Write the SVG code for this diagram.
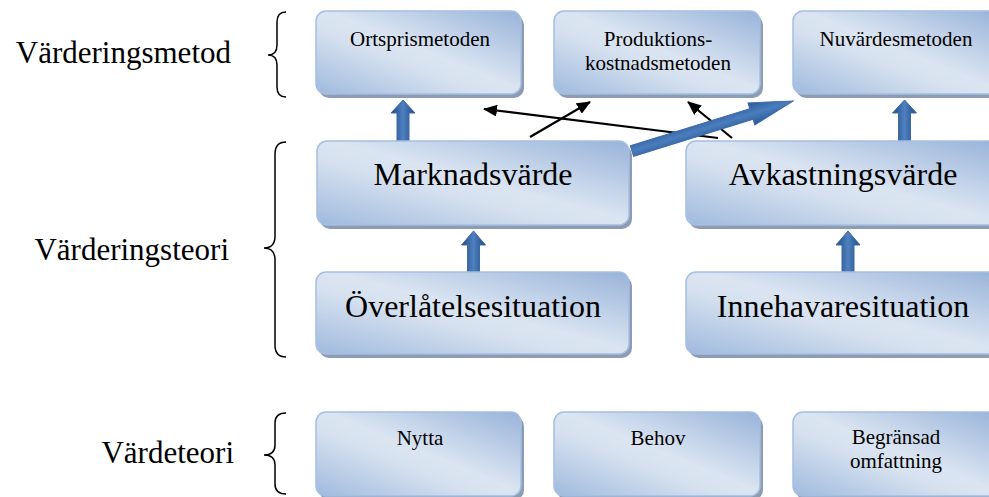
<svg xmlns="http://www.w3.org/2000/svg" width="989" height="497" viewBox="0 0 989 497">
<defs>
<linearGradient id="boxg" x1="1" y1="0" x2="0" y2="1">
<stop offset="0" stop-color="#98b3d9"/>
<stop offset="0.48" stop-color="#dbe5f2"/>
<stop offset="0.6" stop-color="#d6e1ef"/>
<stop offset="1" stop-color="#9fbade"/>
</linearGradient>
<linearGradient id="arrv" x1="0" y1="0" x2="1" y2="0">
<stop offset="0" stop-color="#1f4b86"/>
<stop offset="0.5" stop-color="#4f80bf"/>
<stop offset="1" stop-color="#1f4b86"/>
</linearGradient>
<linearGradient id="arrd" x1="0" y1="0" x2="0" y2="1">
<stop offset="0" stop-color="#2a5a98"/>
<stop offset="0.5" stop-color="#4b7dbd"/>
<stop offset="1" stop-color="#2a5a98"/>
</linearGradient>
<marker id="ah" markerWidth="14" markerHeight="12" refX="13" refY="6" orient="auto" markerUnits="userSpaceOnUse">
<path d="M0,0 L14,6 L0,12 Z" fill="#000"/>
</marker>
</defs>
<style>
.shadow{fill:#8d9bb3;}
.box{fill:url(#boxg);stroke:#a5bfe2;stroke-width:1.5;}
.t{font-family:"Liberation Serif","Times New Roman",serif;fill:#000;text-anchor:middle;}
.s{font-size:21px;}
.l{font-size:32px;}
.lab{font-family:"Liberation Serif","Times New Roman",serif;font-size:31px;fill:#000;text-anchor:end;}
.brace{fill:none;stroke:#000;stroke-width:1.5;}
.thin{fill:none;stroke:#000;stroke-width:2.2;marker-end:url(#ah);}
.ba{fill:url(#arrv);stroke:#3d6aa6;stroke-width:1;}
</style>
<rect width="989" height="497" fill="#fff"/>

<g id="labels">
<text class="lab" x="231" y="63">Värderingsmetod</text>
<text class="lab" x="229" y="260">Värderingsteori</text>
<text class="lab" x="234" y="463">Värdeteori</text>
<path class="brace" d="M286,12 Q277,12 277,22 L277,45 Q277,55 268,55 Q277,55 277,65 L277,87 Q277,97 286,97"/>
<path class="brace" d="M286,142 Q275,142 275,154 L275,236 Q275,248 264,248 Q275,248 275,260 L275,345 Q275,357 286,357"/>
<path class="brace" d="M286,413 Q275,413 275,423 L275,445 Q275,455 264,455 Q275,455 275,465 L275,484 Q275,494 286,494"/>
</g>

<g id="connectors">
<line class="thin" x1="718" y1="138" x2="484" y2="109"/>
<line class="thin" x1="530" y1="137" x2="590" y2="102"/>
<line class="thin" x1="732" y1="138" x2="688" y2="102"/>
<path class="ba" d="M397,141 L397,113 L391,113 L403,100 L415,113 L409,113 L409,141 Z"/>
<path class="ba" d="M898.5,141 L898.5,113 L892.5,113 L904.5,100 L916.5,113 L910.5,113 L910.5,141 Z"/>
<path class="ba" d="M467.5,272 L467.5,245 L461.5,245 L473.5,231 L485.5,245 L479.5,245 L479.5,272 Z"/>
<path class="ba" d="M842,272 L842,245 L836,245 L848,231 L860,245 L854,245 L854,272 Z"/>
<path transform="translate(632,151) rotate(-17.25)" fill="url(#arrd)" stroke="#3d6aa6" stroke-width="1" d="M0,-5.5 L125,-5.5 L125,-11.5 L168.5,0 L125,11.5 L125,5.5 L0,5.5 Z"/>
</g>

<g id="n-ortspris">
<rect class="shadow" x="319" y="15" width="205" height="83" rx="10"/>
<rect class="box" x="316" y="11" width="205" height="83" rx="10"/>
<text class="t s" x="420" y="46">Ortsprismetoden</text>
</g>
<g id="n-produktion">
<rect class="shadow" x="557" y="15" width="206" height="83" rx="10"/>
<rect class="box" x="554" y="11" width="206" height="83" rx="10"/>
<text class="t s" x="658" y="46">Produktions-</text>
<text class="t s" x="658" y="70">kostnadsmetoden</text>
</g>
<g id="n-nuvarde">
<rect class="shadow" x="796" y="15" width="206" height="83" rx="10"/>
<rect class="box" x="793" y="11" width="206" height="83" rx="10"/>
<text class="t s" x="896" y="46">Nuvärdesmetoden</text>
</g>

<g id="n-marknad">
<rect class="shadow" x="320" y="145" width="312" height="84" rx="10"/>
<rect class="box" x="317" y="141" width="312" height="84" rx="10"/>
<text class="t l" x="473" y="185">Marknadsvärde</text>
</g>
<g id="n-avkastning">
<rect class="shadow" x="689" y="145" width="312" height="84" rx="10"/>
<rect class="box" x="686" y="141" width="312" height="84" rx="10"/>
<text class="t l" x="843" y="185">Avkastningsvärde</text>
</g>

<g id="n-overlatelse">
<rect class="shadow" x="319" y="276" width="313" height="82" rx="10"/>
<rect class="box" x="316" y="272" width="313" height="82" rx="10"/>
<text class="t l" x="473" y="317">Överlåtelsesituation</text>
</g>
<g id="n-innehavare">
<rect class="shadow" x="689" y="276" width="313" height="82" rx="10"/>
<rect class="box" x="686" y="272" width="313" height="82" rx="10"/>
<text class="t l" x="843" y="317">Innehavaresituation</text>
</g>

<g id="n-nytta">
<rect class="shadow" x="319" y="416" width="205" height="84" rx="10"/>
<rect class="box" x="316" y="412" width="205" height="84" rx="10"/>
<text class="t s" x="420" y="445">Nytta</text>
</g>
<g id="n-behov">
<rect class="shadow" x="557" y="416" width="206" height="84" rx="10"/>
<rect class="box" x="554" y="412" width="206" height="84" rx="10"/>
<text class="t s" x="658" y="445">Behov</text>
</g>
<g id="n-begransad">
<rect class="shadow" x="796" y="416" width="206" height="84" rx="10"/>
<rect class="box" x="793" y="412" width="206" height="84" rx="10"/>
<text class="t s" x="896" y="444">Begränsad</text>
<text class="t s" x="896" y="468">omfattning</text>
</g>
</svg>
